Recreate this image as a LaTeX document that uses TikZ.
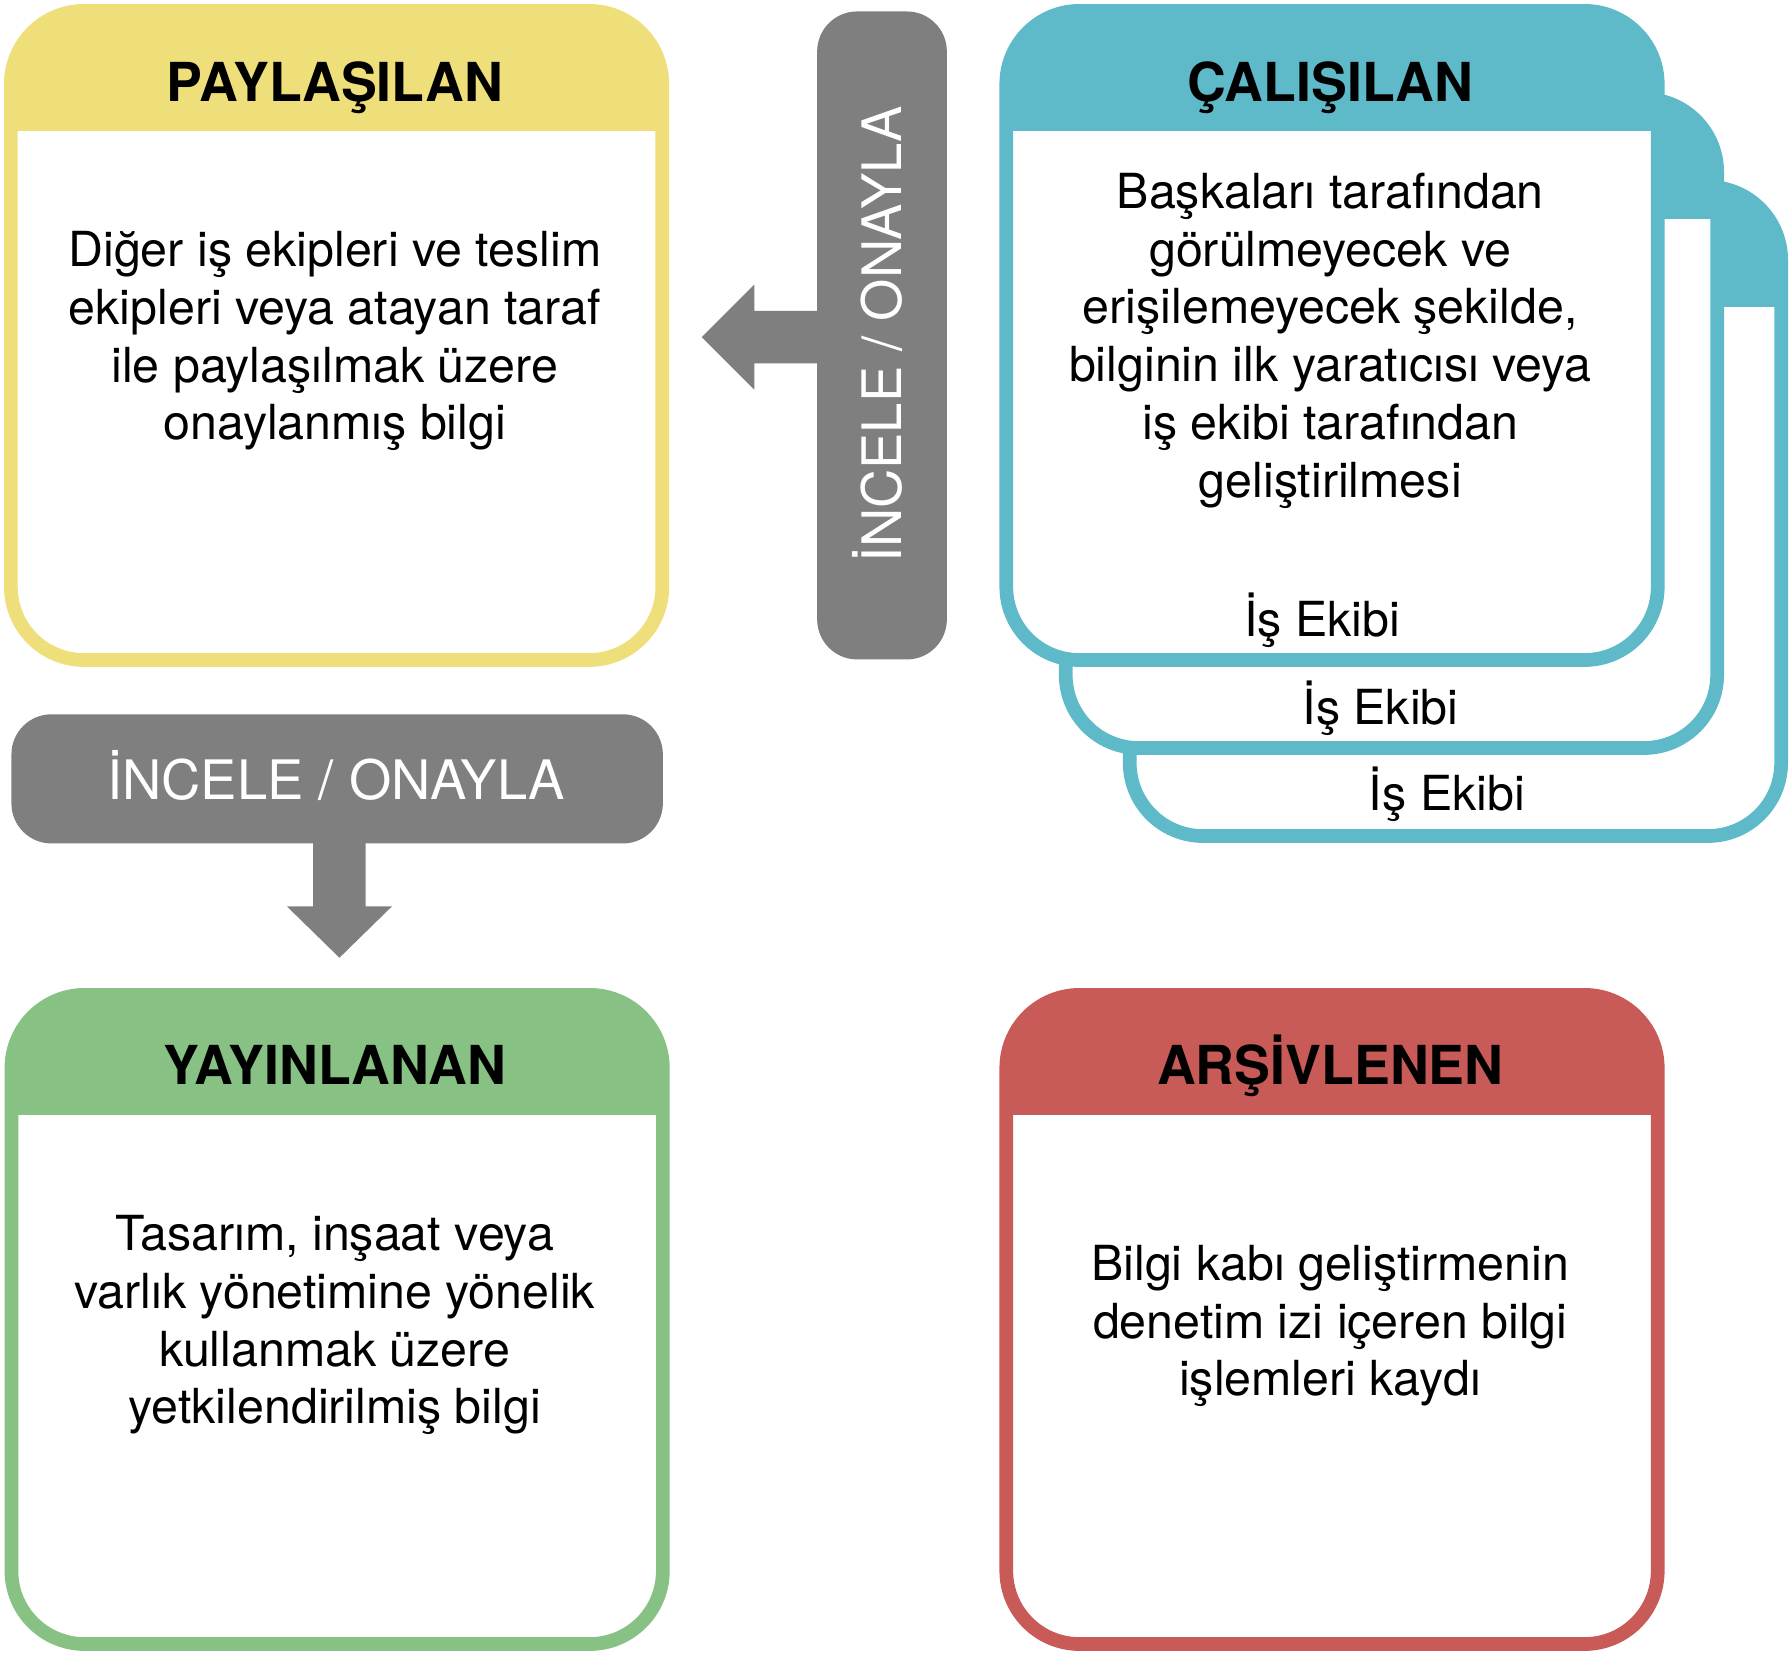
\documentclass[tikz,border=0pt]{standalone}
\usepackage{fontspec}
\setmainfont{TeX Gyre Heros}
\definecolor{cyellow}{RGB}{238,223,122}
\definecolor{cteal}{RGB}{94,186,200}
\definecolor{cgreen}{RGB}{135,194,132}
\definecolor{cred}{RGB}{200,91,87}
\definecolor{cgray}{RGB}{127,127,127}
\newcommand\stagebox[3]{%
  \fill[white, rounded corners=32pt] (#1,#2) rectangle ++(570,568);
  \begin{scope}
    \clip[rounded corners=32pt] (#1,#2) rectangle ++(570,568);
    \fill[#3] (#1-10,#2-10) rectangle ++(590,115.5);
  \end{scope}
  \draw[#3, line width=6pt, rounded corners=32pt] (#1,#2) rectangle ++(570,568);
}
\tikzset{
  bodytext/.style={font=\fontsize{21.15}{25.25}\selectfont, align=center, inner sep=0pt, anchor=north},
  titletext/.style={font=\bfseries\fontsize{23.5}{28}\selectfont, inner sep=0pt, anchor=base},
  teamtext/.style={font=\fontsize{21.15}{25.25}\selectfont, inner sep=0pt, anchor=base},
  graytext/.style={font=\fontsize{23.8}{28}\selectfont, text=white, inner sep=0pt, anchor=base},
  graybar/.style={fill=cgray, rounded corners=17.5pt},
  blockarrow/.style={fill=cgray}
}
\begin{document}
\begin{tikzpicture}[x=0.5pt,y=-0.5pt]
\useasboundingbox (0,0) rectangle (1568,1447);
% stage boxes
\stagebox{9.5}{9.5}{cyellow}
\stagebox{10}{870.5}{cgreen}
\stagebox{880.5}{870.5}{cred}
\stagebox{988.5}{163.5}{cteal}
\stagebox{932.5}{86.5}{cteal}
\stagebox{880.5}{9.5}{cteal}
% titles
\node[titletext] (tpay) at (293,89) {PAYLAŞILAN};
\node[titletext] (tcal) at (1164,89) {ÇALIŞILAN};
\node[titletext] (tyay) at (293,949) {YAYINLANAN};
\node[titletext] (tars) at (1164,949) {ARŞİVLENEN};
% body texts (first baseline = y + 35.35)
\node[bodytext] (bpay) at (293,197.65) {\strut Diğer iş ekipleri ve teslim\\ekipleri veya atayan taraf\\ile paylaşılmak üzere\\onaylanmış bilgi};
\node[bodytext] (bcal) at (1164,146.65) {\strut Başkaları tarafından\\görülmeyecek ve\\erişilemeyecek şekilde,\\bilginin ilk yaratıcısı veya\\iş ekibi tarafından\\geliştirilmesi};
\node[bodytext] (byay) at (293,1058.65) {\strut Tasarım, inşaat veya\\varlık yönetimine yönelik\\kullanmak üzere\\yetkilendirilmiş bilgi};
\node[bodytext] (bars) at (1164,1084.65) {\strut Bilgi kabı geliştirmenin\\denetim izi içeren bilgi\\işlemleri kaydı};
% team labels
\node[teamtext] (team1) at (1157,556.5) {İş Ekibi};
\node[teamtext] (team2) at (1208,633.5) {İş Ekibi};
\node[teamtext] (team3) at (1266,709) {İş Ekibi};
% vertical review bar with arrow to the left
\fill[graybar] (715,10) rectangle (828.5,577);
\coordinate (vtip) at (614,295);
\fill[blockarrow] (716,272) -- (660,272) -- (660,249) -- (vtip) -- (660,341) -- (660,318) -- (716,318) -- cycle;
\node[graytext, rotate=90] (vlabel) at (789,292.5) {İNCELE / ONAYLA};
% horizontal review bar with arrow down
\fill[graybar] (10,625) rectangle (580,738);
\coordinate (htip) at (297,838);
\fill[blockarrow] (274,737) -- (274,793) -- (251,793) -- (htip) -- (343,793) -- (320,793) -- (320,737) -- cycle;
\node[graytext] (hlabel) at (294,699.7) {İNCELE / ONAYLA};
\end{tikzpicture}
\end{document}
